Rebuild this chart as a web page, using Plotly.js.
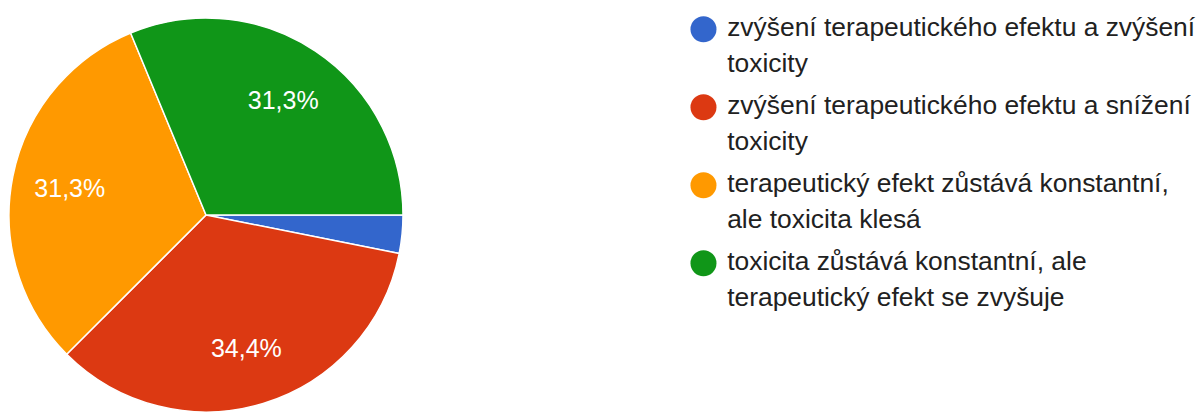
<!DOCTYPE html>
<html>
<head>
<meta charset="utf-8">
<script src="https://cdn.plot.ly/plotly-3.0.1.min.js"></script>
<style>html,body{margin:0;padding:0;background:#fff;}#chart{width:1197px;height:412px;}</style>
</head>
<body>
<div id="chart"></div>
<script>
// Data
const categories = [
  "zvýšení terapeutického efektu a zvýšení\ntoxicity",
  "zvýšení terapeutického efektu a snížení\ntoxicity",
  "terapeutický efekt zůstává konstantní,\nale toxicita klesá",
  "toxicita zůstává konstantní, ale\nterapeutický efekt se zvyšuje"
];
const counts = [1, 11, 10, 10];
const colors = ["#3366cc", "#dc3912", "#ff9900", "#109618"];
const showLabel = [false, true, true, true];

const FONT = "'Liberation Sans', Arial, sans-serif";
const LINE_STEP = 36.5 / 78;
const pieDomain = {x: [9/1197, 403/1197], y: [0, 394/412]};

const pie = {
  type: "pie",
  labels: categories.map(c => c.replace("\n", " ")),
  values: counts,
  sort: false,
  direction: "clockwise",
  rotation: 90,
  marker: {colors: colors, line: {color: "#ffffff", width: 1.5}},
  textinfo: "none",
  hoverinfo: "none",
  showlegend: false,
  domain: pieDomain
};

// transparent ring used only to place the percentage labels
const labelRing = {
  type: "pie",
  labels: categories.map(c => c.replace("\n", " ")),
  values: counts,
  sort: false,
  direction: "clockwise",
  rotation: 90,
  hole: 0.41,
  marker: {colors: colors.map(() => "rgba(0,0,0,0)"), line: {width: 0}},
  texttemplate: showLabel.map(s => s ? "%{percent:.1%}" : ""),
  textposition: "inside",
  insidetextorientation: "horizontal",
  insidetextfont: {color: "#ffffff", size: 25, family: FONT},
  hoverinfo: "none",
  showlegend: false,
  domain: pieDomain
};

// custom legend built from categories
const markerTrace = {
  type: "scatter", mode: "markers",
  x: categories.map(() => 0.5877),
  y: categories.map((c, i) => i),
  marker: {color: colors, size: 26},
  hoverinfo: "none", showlegend: false,
  xaxis: "x", yaxis: "y"
};
const lx = [], ly = [], lt = [];
categories.forEach((c, i) => {
  c.split("\n").forEach((line, j) => {
    lx.push(0.6075); ly.push(i + j * LINE_STEP); lt.push(line);
  });
});
const textTrace = {
  type: "scatter", mode: "text",
  x: lx, y: ly, text: lt,
  textposition: "middle right",
  textfont: {size: 26.4, color: "#212121", family: FONT},
  hoverinfo: "none", showlegend: false,
  xaxis: "x", yaxis: "y"
};

const layout = {
  width: 1197, height: 412,
  margin: {l: 0, r: 0, t: 0, b: 0},
  paper_bgcolor: "#ffffff", plot_bgcolor: "rgba(0,0,0,0)",
  separators: ", ",
  showlegend: false,
  xaxis: {range: [0, 1], visible: false, fixedrange: true, domain: [0, 1]},
  yaxis: {range: [412/78 - 29.3/78, -29.3/78], visible: false, fixedrange: true, domain: [0, 1]},
  font: {family: FONT}
};

Plotly.newPlot("chart", [pie, labelRing, markerTrace, textTrace], layout, {displayModeBar: false, staticPlot: true});
</script>
</body>
</html>
